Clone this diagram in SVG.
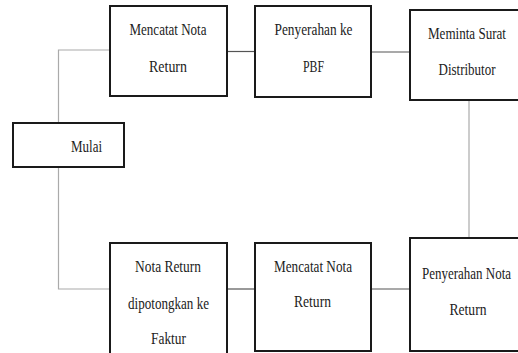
<svg xmlns="http://www.w3.org/2000/svg" width="518" height="353" viewBox="0 0 518 353">
<style>
.box{fill:#fff;stroke:#1a1a1a;stroke-width:2}
.h{stroke:#555;stroke-width:1.2;fill:none}
.v{stroke:#aaa;stroke-width:1.2;fill:none}
</style>
<rect width="518" height="353" fill="#fff"/>
<g id="connectors">
<polyline class="v" points="110,50 58.5,50 58.5,123"/>
<polyline class="v" points="58.5,167 58.5,289 110,289"/>
<line class="h" x1="227" y1="51.5" x2="255" y2="51.5"/>
<line class="h" x1="371" y1="52" x2="410" y2="52"/>
<line class="v" x1="469" y1="100" x2="469" y2="238"/>
<line class="h" x1="227" y1="289" x2="255" y2="289"/>
<line class="h" x1="371" y1="289" x2="410" y2="289"/>
</g>
<g font-family="Liberation Serif, Times New Roman, serif" font-size="17" fill="#222" text-anchor="middle">
<g id="mulai">
<rect class="box" x="13" y="123" width="111" height="44"/>
<text x="86.5" y="151.5" textLength="31" lengthAdjust="spacingAndGlyphs">Mulai</text>
</g>
<g id="mencatat1">
<rect class="box" x="110" y="6" width="117" height="90"/>
<text x="168" y="35" textLength="77" lengthAdjust="spacingAndGlyphs">Mencatat Nota</text>
<text x="168" y="71.5" textLength="38" lengthAdjust="spacingAndGlyphs">Return</text>
</g>
<g id="penyerahan-pbf">
<rect class="box" x="255" y="6" width="116" height="91"/>
<text x="313.5" y="35" textLength="78" lengthAdjust="spacingAndGlyphs">Penyerahan ke</text>
<text x="313.5" y="71.5" textLength="21" lengthAdjust="spacingAndGlyphs">PBF</text>
</g>
<g id="meminta">
<rect class="box" x="410" y="10" width="110" height="90"/>
<text x="467" y="38.5" textLength="78" lengthAdjust="spacingAndGlyphs">Meminta Surat</text>
<text x="467" y="75" textLength="57" lengthAdjust="spacingAndGlyphs">Distributor</text>
</g>
<g id="penyerahan-nota">
<rect class="box" x="410" y="238" width="110" height="113"/>
<text x="466.5" y="278.5" textLength="89" lengthAdjust="spacingAndGlyphs">Penyerahan Nota</text>
<text x="468" y="315" textLength="37" lengthAdjust="spacingAndGlyphs">Return</text>
</g>
<g id="mencatat2">
<rect class="box" x="255" y="243" width="116" height="108"/>
<text x="313" y="272" textLength="78" lengthAdjust="spacingAndGlyphs">Mencatat Nota</text>
<text x="312.5" y="307" textLength="37" lengthAdjust="spacingAndGlyphs">Return</text>
</g>
<g id="nota-dipotong">
<rect class="box" x="110" y="243" width="117" height="120"/>
<text x="168" y="272" textLength="66" lengthAdjust="spacingAndGlyphs">Nota Return</text>
<text x="168.5" y="308.5" textLength="81" lengthAdjust="spacingAndGlyphs">dipotongkan ke</text>
<text x="168.5" y="343.5" textLength="35" lengthAdjust="spacingAndGlyphs">Faktur</text>
</g>
</g>
</svg>
